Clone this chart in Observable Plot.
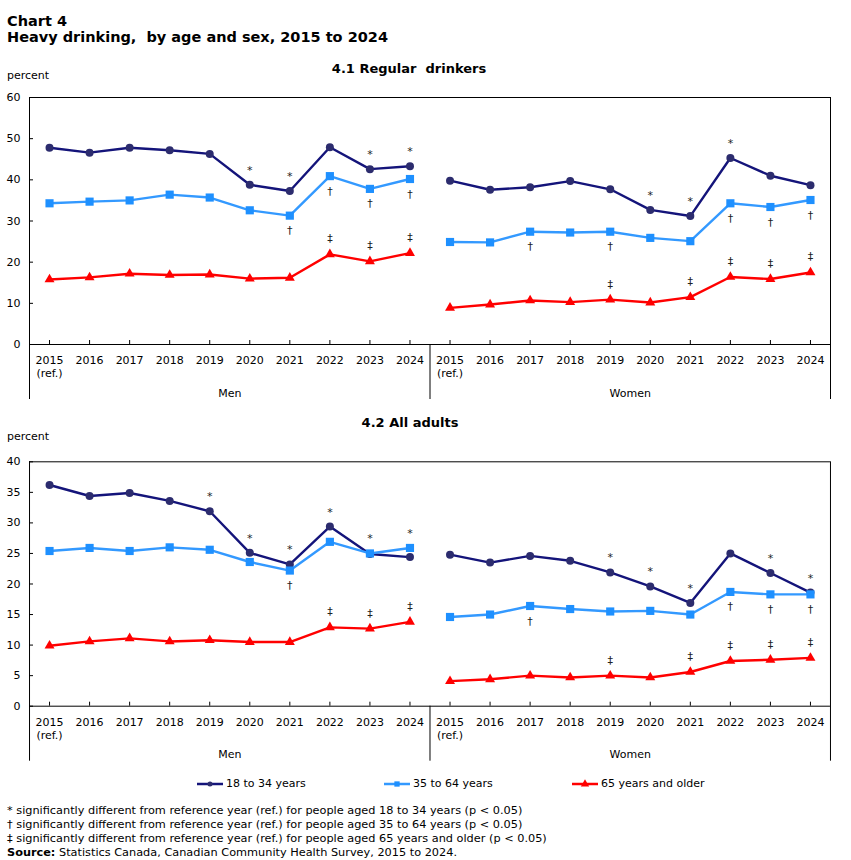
<!DOCTYPE html>
<html>
<head>
<meta charset="utf-8">
<script src="https://cdn.jsdelivr.net/npm/d3@7"></script>
<script src="https://cdn.jsdelivr.net/npm/@observablehq/plot@0.6"></script>
<style>
  body { margin: 0; background: #fff; }
  #page { position: relative; width: 851px; height: 860px; overflow: hidden; font-family: "DejaVu Sans", Verdana, sans-serif; color: #000; }
  .abs { position: absolute; white-space: pre; }
  .title { left: 7px; font-weight: bold; font-size: 14.5px; line-height: 14.5px; }
  .subtitle { font-weight: bold; font-size: 13px; line-height: 13px; transform: translateX(-50%); }
  .unit { left: 7px; font-size: 11px; line-height: 11px; }
  .panel { position: absolute; left: 0; }
  .legend-item { position: absolute; display: flex; align-items: center; font-size: 11px; line-height: 14px; height: 14px; }
  .legend-item svg { display: block; margin-right: 3px; }
  .notes { left: 7px; font-family: "DejaVu Sans", Verdana, sans-serif; font-size: 11.3px; line-height: 14px; }
</style>
</head>
<body>
<div id="page">
  <div class="abs title" style="top:13.5px">Chart 4</div>
  <div class="abs title" style="top:29.7px">Heavy drinking,  by age and sex, 2015 to 2024</div>
  <div class="abs subtitle" style="left:409px;top:62px">4.1 Regular  drinkers</div>
  <div class="abs unit" style="top:70px">percent</div>
  <div id="chart1" class="panel" style="top:85px"></div>
  <div class="abs subtitle" style="left:410px;top:415.5px">4.2 All adults</div>
  <div class="abs unit" style="top:430.5px">percent</div>
  <div id="chart2" class="panel" style="top:450px"></div>
  <div id="legend"></div>
  <div class="abs notes" style="top:804px">* significantly different from reference year (ref.) for people aged 18 to 34 years (p &lt; 0.05)
† significantly different from reference year (ref.) for people aged 35 to 64 years (p &lt; 0.05)
‡ significantly different from reference year (ref.) for people aged 65 years and older (p &lt; 0.05)
<b>Source:</b> Statistics Canada, Canadian Community Health Survey, 2015 to 2024.</div>
</div>
<script>
// Categories
const years = ["2015", "2016", "2017", "2018", "2019", "2020", "2021", "2022", "2023", "2024"];
const sexes = ["Men", "Women"];
const ageGroups = ["18 to 34 years", "35 to 64 years", "65 years and older"];

// 4.1 Regular drinkers (percent)
const regularMen18to34 = [47.8, 46.6, 47.8, 47.2, 46.3, 38.8, 37.3, 47.9, 42.6, 43.3];
const regularMen35to64 = [34.3, 34.7, 35.0, 36.4, 35.7, 32.6, 31.3, 40.9, 37.8, 40.2];
const regularMen65plus = [15.8, 16.3, 17.2, 16.9, 17.0, 16.0, 16.2, 21.9, 20.2, 22.2];
const regularWomen18to34 = [39.8, 37.6, 38.2, 39.7, 37.7, 32.7, 31.2, 45.3, 41.0, 38.7];
const regularWomen35to64 = [24.9, 24.8, 27.4, 27.2, 27.4, 25.9, 25.1, 34.3, 33.4, 35.1];
const regularWomen65plus = [8.9, 9.7, 10.7, 10.3, 10.9, 10.2, 11.5, 16.4, 15.9, 17.5];
// significance flags per year: * 18 to 34, † 35 to 64, ‡ 65 and older
const regularMenFlags = ["", "", "", "", "", "*", "*†", "†‡", "*†‡", "*†‡"];
const regularWomenFlags = ["", "", "†", "", "†‡", "*", "*‡", "*†‡", "†‡", "†‡"];

// 4.2 All adults (percent)
const adultsMen18to34 = [36.2, 34.4, 34.9, 33.6, 31.9, 25.1, 23.2, 29.4, 24.9, 24.4];
const adultsMen35to64 = [25.4, 25.9, 25.4, 26.0, 25.6, 23.6, 22.2, 26.9, 25.0, 25.9];
const adultsMen65plus = [9.9, 10.6, 11.1, 10.6, 10.8, 10.5, 10.5, 12.9, 12.7, 13.8];
const adultsWomen18to34 = [24.8, 23.5, 24.6, 23.8, 21.9, 19.6, 16.9, 25.0, 21.8, 18.6];
const adultsWomen35to64 = [14.6, 15.0, 16.4, 15.9, 15.5, 15.6, 15.0, 18.7, 18.3, 18.3];
const adultsWomen65plus = [4.1, 4.4, 5.0, 4.7, 5.0, 4.7, 5.6, 7.4, 7.6, 7.9];
const adultsMenFlags = ["", "", "", "", "*", "*", "*†", "*‡", "*‡", "*‡"];
const adultsWomenFlags = ["", "", "†", "", "*‡", "*", "*‡", "†‡", "*†‡", "*†‡"];

// Series styling
const lineColors = ["#14147a", "#3399ff", "#ff0000"];
const markerColors = ["#2c2c6e", "#1e90ff", "#ff0000"];
const markerSymbols = ["circle", "square", "triangle"];
const markerRadii = [4, 4.6, 3.7];
const noteColor = "#222";

const n = years.length;
const tickLabel = (i) => {
  const y = years[((i % n) + n) % n];
  return i % n === 0 ? `${y}\n(ref.)` : y;
};

function drawPanel(target, series, flags, yMax, yStep, marginTop, plotHeight) {
  // series[sexIndex][ageIndex] -> values by year
  const rows = [];
  series.forEach((bySex, si) =>
    bySex.forEach((vals, ai) =>
      vals.forEach((v, yi) => rows.push({x: si * n + yi, sex: sexes[si], age: ai, v}))
    )
  );
  const notes = [];
  flags.forEach((bySex, si) =>
    bySex.forEach((f, yi) => {
      for (const sym of f) {
        const v = sym === "*" ? Math.max(series[si][0][yi], series[si][1][yi])
                : sym === "†" ? series[si][1][yi]
                : series[si][2][yi];
        notes.push({x: si * n + yi, v, sym});
      }
    })
  );
  const marks = [
    Plot.ruleY([yMax], {stroke: "#000", strokeWidth: 1}),
    Plot.ruleY([0], {stroke: "#000", strokeWidth: 1}),
    Plot.ruleX([-0.5, sexes.length * n - 0.5], {stroke: "#000", insetBottom: -55}),
    Plot.ruleX(sexes.slice(1).map((_, i) => (i + 1) * n - 0.5), {y1: 0, y2: 0, stroke: "#000", insetBottom: -55}),
    Plot.axisY({ticks: d3.range(0, yMax + yStep / 2, yStep), tickSize: -4, tickPadding: 13, fontSize: 11}),
    Plot.axisX({ticks: d3.range(sexes.length * n), tickSize: -4, tickPadding: 14, tickFormat: tickLabel, fontSize: 11, lineHeight: 1.2}),
    Plot.text(sexes, {x: (d, i) => i * n + (n - 1) / 2, text: (d) => d, frameAnchor: "bottom", dy: 52, fontSize: 11})
  ];
  ageGroups.forEach((g, ai) => {
    const data = rows.filter((r) => r.age === ai);
    marks.push(Plot.line(data, {x: "x", y: "v", z: "sex", stroke: lineColors[ai], strokeWidth: 2.4, curve: "linear"}));
    marks.push(Plot.dot(data, {x: "x", y: "v", symbol: markerSymbols[ai], r: markerRadii[ai], fill: markerColors[ai], stroke: "none"}));
  });
  const dys = {"*": -14.5, "†": 15, "‡": -15.5};
  for (const sym of ["*", "†", "‡"]) {
    marks.push(Plot.text(notes.filter((d) => d.sym === sym), {x: "x", y: "v", text: "sym", dy: dys[sym], fontSize: 11, fill: noteColor}));
  }
  const chart = Plot.plot({
    width: 851,
    height: marginTop + plotHeight + 60,
    marginTop,
    marginBottom: 60,
    marginLeft: 29,
    marginRight: 21,
    x: {type: "linear", domain: [-0.5, sexes.length * n - 0.5], label: null},
    y: {domain: [0, yMax], label: null},
    style: {fontFamily: "'DejaVu Sans', Verdana, sans-serif", fontSize: "11px", color: "#000", background: "transparent", overflow: "visible"},
    marks
  });
  document.getElementById(target).appendChild(chart);
}

drawPanel("chart1",
  [[regularMen18to34, regularMen35to64, regularMen65plus], [regularWomen18to34, regularWomen35to64, regularWomen65plus]],
  [regularMenFlags, regularWomenFlags], 60, 10, 12, 247);

drawPanel("chart2",
  [[adultsMen18to34, adultsMen35to64, adultsMen65plus], [adultsWomen18to34, adultsWomen35to64, adultsWomen65plus]],
  [adultsMenFlags, adultsWomenFlags], 40, 5, 11.3, 244.4);

// Legend: line-and-marker swatches
const legendLeft = [197, 384, 572];
const legend = d3.select("#legend");
ageGroups.forEach((g, ai) => {
  const item = legend.append("div").attr("class", "legend-item")
    .style("left", `${legendLeft[ai]}px`).style("top", "777px");
  const svg = item.append("svg").attr("width", 26).attr("height", 14);
  svg.append("line").attr("x1", 0).attr("x2", 26).attr("y1", 7).attr("y2", 7)
    .attr("stroke", lineColors[ai]).attr("stroke-width", 2.5);
  const sym = [d3.symbolCircle, d3.symbolSquare, d3.symbolTriangle][ai];
  svg.append("path").attr("transform", "translate(13,7)")
    .attr("d", d3.symbol(sym, [20, 28, 30][ai])())
    .attr("fill", markerColors[ai]);
  item.append("span").text(g);
});
</script>
</body>
</html>
